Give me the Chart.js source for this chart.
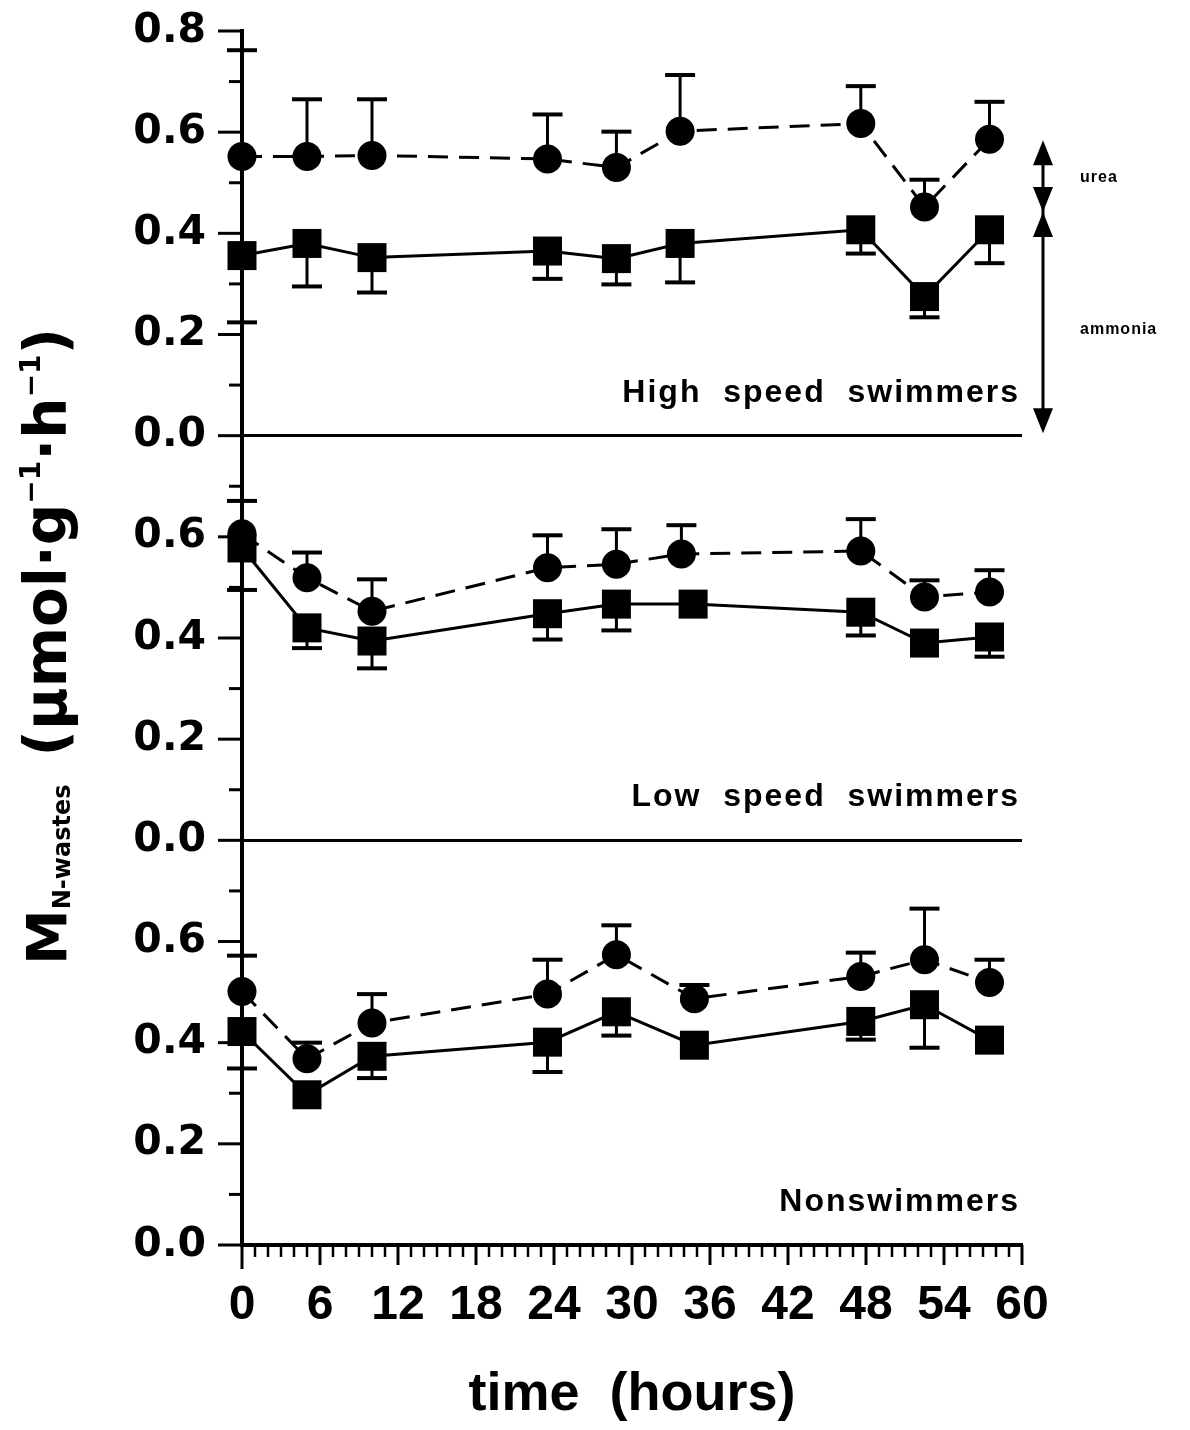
<!DOCTYPE html>
<html>
<head>
<meta charset="utf-8">
<script src="https://cdn.jsdelivr.net/npm/chart.js@4.4.1/dist/chart.umd.min.js"></script>
<style>
  html, body { margin: 0; padding: 0; background: #fff; }
</style>
</head>
<body>
<canvas id="chart" width="1190" height="1430"></canvas>
<script>
// sampling times (hours)
const timesHigh = [0, 5, 10, 23.5, 28.8, 33.7, 47.6, 52.5, 57.5];
const timesLowUrea = [0, 5, 10, 23.5, 28.8, 33.8, 47.6, 52.5, 57.5];
const timesLowAmmonia = [0, 5, 10, 23.5, 28.8, 34.7, 47.6, 52.5, 57.5];
const timesNon = [0, 5, 10, 23.5, 28.8, 34.8, 47.6, 52.5, 57.5];

// high speed swimmers: total (urea + ammonia) and ammonia, with the error bar ends
const highTotal = [0.552, 0.552, 0.554, 0.547, 0.530, 0.602, 0.617, 0.452, 0.586];
const highTotalErr = [0.762, 0.665, 0.665, 0.635, 0.601, 0.713, 0.691, 0.506, 0.660];
const highAmmonia = [0.356, 0.380, 0.352, 0.365, 0.350, 0.380, 0.407, 0.275, 0.407];
const highAmmoniaErr = [0.224, 0.295, 0.283, 0.310, 0.299, 0.303, 0.360, 0.234, 0.341];

// low speed swimmers
const lowTotal = [0.606, 0.519, 0.453, 0.539, 0.546, 0.566, 0.572, 0.481, 0.491];
const lowTotalErr = [0.671, 0.569, 0.516, 0.603, 0.615, 0.623, 0.635, 0.514, 0.534];
const lowAmmonia = [0.578, 0.420, 0.394, 0.448, 0.467, 0.467, 0.451, 0.390, 0.402];
const lowAmmoniaErr = [0.495, 0.380, 0.340, 0.397, 0.415, null, 0.405, null, 0.363];

// nonswimmers
const nonTotal = [0.501, 0.368, 0.439, 0.496, 0.574, 0.487, 0.531, 0.564, 0.519];
const nonTotalErr = [0.572, 0.400, 0.496, 0.564, 0.632, 0.514, 0.578, 0.665, 0.564];
const nonAmmonia = [0.422, 0.297, 0.373, 0.401, 0.461, 0.395, 0.442, 0.475, 0.405];
const nonAmmoniaErr = [0.349, null, 0.330, 0.342, 0.414, null, 0.406, 0.390, null];

const panelNames = ['High  speed  swimmers', 'Low  speed  swimmers', 'Nonswimmers'];
const panelBase = [1.6, 0.8, 0];
const yTickLabels = ['0.0', '0.2', '0.4', '0.6', '0.0', '0.2', '0.4', '0.6', '0.0', '0.2', '0.4', '0.6', '0.8'];
const xTickLabels = ['0', '6', '12', '18', '24', '30', '36', '42', '48', '54', '60'];
// urea / ammonia bracket on the right of the top panel
const bracketMarks = [0.584, 0.442, 0.005];

const sans = "'Liberation Sans', Arial, sans-serif";
const wide = "'DejaVu Sans', sans-serif";

function series(times, vals, errs, base, kind) {
  const urea = kind === 'total';
  return {
    data: times.map((t, i) => ({ x: t, y: base + vals[i] })),
    errTo: errs.map(e => (e == null ? null : base + e)),
    borderColor: '#000',
    backgroundColor: '#000',
    borderWidth: 3,
    borderDash: urea ? [20, 11] : [],
    pointStyle: urea ? 'circle' : 'rect',
    pointRadius: urea ? 14.5 : 20.5,
    pointBorderWidth: 0,
    tension: 0,
    clip: false
  };
}

const datasets = [
  series(timesHigh, highTotal, highTotalErr, panelBase[0], 'total'),
  series(timesHigh, highAmmonia, highAmmoniaErr, panelBase[0], 'ammonia'),
  series(timesLowUrea, lowTotal, lowTotalErr, panelBase[1], 'total'),
  series(timesLowAmmonia, lowAmmonia, lowAmmoniaErr, panelBase[1], 'ammonia'),
  series(timesNon, nonTotal, nonTotalErr, panelBase[2], 'total'),
  series(timesNon, nonAmmonia, nonAmmoniaErr, panelBase[2], 'ammonia')
];

// error bars: up from circles, down from squares
const errorBars = {
  id: 'errorBars',
  beforeDatasetsDraw(chart) {
    const { ctx, scales: { x, y } } = chart;
    ctx.save();
    ctx.strokeStyle = '#000';
    chart.data.datasets.forEach(ds => {
      ds.errTo.forEach((e, i) => {
        if (e == null) return;
        const px = x.getPixelForValue(ds.data[i].x);
        const py = y.getPixelForValue(ds.data[i].y);
        const pe = y.getPixelForValue(e);
        ctx.lineWidth = 3;
        ctx.beginPath();
        ctx.moveTo(px, py);
        ctx.lineTo(px, pe);
        ctx.stroke();
        ctx.lineWidth = 4;
        ctx.beginPath();
        ctx.moveTo(px - 15, pe);
        ctx.lineTo(px + 15, pe);
        ctx.stroke();
      });
    });
    ctx.restore();
  }
};

// minor/major tick marks, panel names, bracket and y title
const decorations = {
  id: 'decorations',
  beforeDatasetsDraw(chart) {
    const { ctx, chartArea: a, scales: { x, y } } = chart;
    ctx.save();
    ctx.strokeStyle = '#000';
    ctx.lineWidth = 3;
    for (let i = 0; i <= 24; i++) {
      const py = y.getPixelForValue(i * 0.1);
      ctx.beginPath();
      ctx.moveTo(a.left, py);
      ctx.lineTo(a.left - (i % 2 === 0 ? 24 : 13), py);
      ctx.stroke();
    }
    for (let h = 0; h <= 60; h++) {
      const px = x.getPixelForValue(h);
      ctx.lineWidth = h % 6 === 0 ? 3 : 2.5;
      ctx.beginPath();
      ctx.moveTo(px, a.bottom);
      ctx.lineTo(px, a.bottom + (h === 0 ? 24 : h % 6 === 0 ? 20 : 12));
      ctx.stroke();
    }
    ctx.restore();
  },
  afterDraw(chart) {
    const { ctx, chartArea: a, scales: { y } } = chart;
    ctx.save();
    ctx.fillStyle = '#000';
    ctx.strokeStyle = '#000';

    // panel names
    ctx.font = 'bold 32px ' + sans;
    ctx.letterSpacing = '2px';
    ctx.textAlign = 'right';
    ctx.textBaseline = 'alphabetic';
    panelNames.forEach((name, i) => {
      ctx.fillText(name, a.right - 2, y.getPixelForValue(panelBase[i]) - 34);
    });

    // urea / ammonia bracket
    const bx = a.right + 21;
    const yt = y.getPixelForValue(panelBase[0] + bracketMarks[0]);
    const ym = y.getPixelForValue(panelBase[0] + bracketMarks[1]);
    const yb = y.getPixelForValue(panelBase[0] + bracketMarks[2]);
    ctx.lineWidth = 3;
    ctx.beginPath();
    ctx.moveTo(bx, yt + 10);
    ctx.lineTo(bx, yb - 10);
    ctx.stroke();
    const head = (tipY, dir) => {
      ctx.beginPath();
      ctx.moveTo(bx, tipY);
      ctx.lineTo(bx - 10, tipY + dir * 25);
      ctx.lineTo(bx + 10, tipY + dir * 25);
      ctx.closePath();
      ctx.fill();
    };
    head(yt, 1);
    head(ym, -1);
    head(ym, 1);
    head(yb, -1);
    ctx.font = 'bold 16px ' + sans;
    ctx.letterSpacing = '1px';
    ctx.textAlign = 'left';
    ctx.fillText('urea', bx + 37, (yt + ym) / 2 + 6);
    ctx.fillText('ammonia', bx + 37, ym + 122);

    // y title with subscript and superscripts
    const parts = [
      { t: 'M', size: 56, dy: 0, gap: 0 },
      { t: 'N-wastes', size: 24, dy: 4, gap: 28 },
      { t: '(\u03bcmol\u00b7g', size: 58, dy: 0, gap: 0 },
      { t: '\u22121', size: 28, dy: -26, gap: 0 },
      { t: '\u00b7h', size: 58, dy: 0, gap: 0 },
      { t: '\u22121', size: 28, dy: -26, gap: 0 },
      { t: ')', size: 58, dy: 0, gap: 0 }
    ];
    ctx.letterSpacing = '0px';
    ctx.translate(66, 965);
    ctx.rotate(-Math.PI / 2);
    let pos = 0;
    parts.forEach(p => {
      ctx.font = 'bold ' + p.size + 'px ' + wide;
      ctx.fillText(p.t, pos, p.dy);
      pos += ctx.measureText(p.t).width + p.gap;
    });
    ctx.restore();
  }
};

const isSeparator = v => Math.abs(v - 0.8) < 1e-6 || Math.abs(v - 1.6) < 1e-6;

new Chart(document.getElementById('chart'), {
  type: 'line',
  data: { datasets },
  options: {
    responsive: false,
    devicePixelRatio: 1,
    animation: false,
    layout: { padding: { top: 31, right: 168, bottom: 0, left: 0 } },
    plugins: { legend: { display: false }, tooltip: { enabled: false } },
    scales: {
      x: {
        type: 'linear',
        min: 0,
        max: 60,
        afterFit(scale) { scale.height = 185; scale.paddingLeft = 0; scale.paddingRight = 0; },
        grid: { display: false },
        border: { display: true, color: '#000', width: 4 },
        ticks: {
          stepSize: 6,
          autoSkip: false,
          maxRotation: 0,
          padding: 24,
          color: '#000',
          font: { family: sans, size: 48, weight: 'bold' },
          callback: (v, i) => xTickLabels[i]
        },
        title: {
          display: true,
          text: 'time  (hours)',
          color: '#000',
          font: { family: sans, size: 54, weight: 'bold' },
          padding: { top: 0, bottom: 2 }
        }
      },
      y: {
        type: 'linear',
        min: 0,
        max: 2.4,
        afterFit(scale) { scale.width = 242; scale.paddingTop = 0; scale.paddingBottom = 0; },
        grid: {
          display: true,
          drawTicks: false,
          color: c => (isSeparator(c.tick.value) ? '#000' : 'rgba(0,0,0,0)'),
          lineWidth: 3
        },
        border: { display: true, color: '#000', width: 4 },
        ticks: {
          stepSize: 0.2,
          autoSkip: false,
          padding: 36,
          color: '#000',
          font: { family: wide, size: 41, weight: 'bold' },
          callback: (v, i) => yTickLabels[i]
        }
      }
    }
  },
  plugins: [errorBars, decorations]
});
</script>
</body>
</html>
